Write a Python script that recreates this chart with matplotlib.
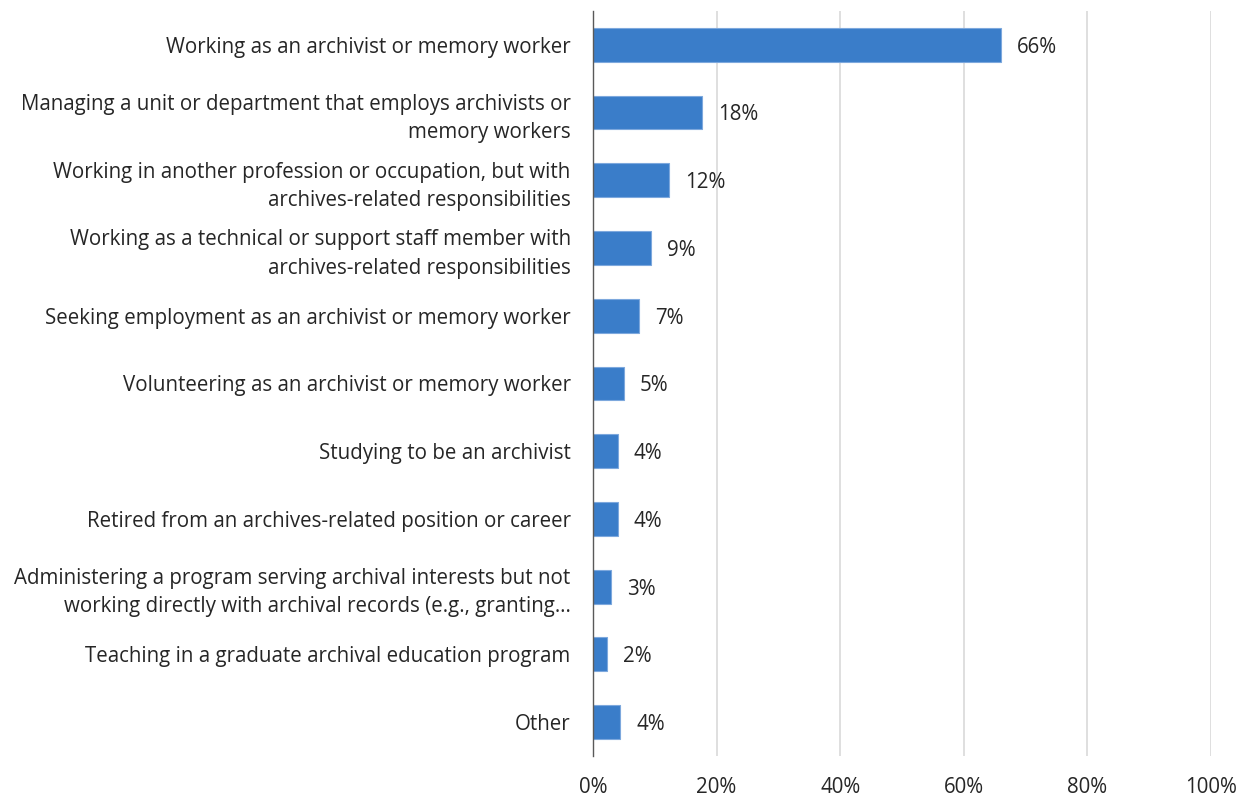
import matplotlib.pyplot as plt
from matplotlib.ticker import PercentFormatter

plt.rcParams['font.family'] = ['Open Sans', 'DejaVu Sans']

categories = [
    "Working as an archivist or memory worker",
    "Managing a unit or department that employs archivists or\nmemory workers",
    "Working in another profession or occupation, but with\narchives-related responsibilities",
    "Working as a technical or support staff member with\narchives-related responsibilities",
    "Seeking employment as an archivist or memory worker",
    "Volunteering as an archivist or memory worker",
    "Studying to be an archivist",
    "Retired from an archives-related position or career",
    "Administering a program serving archival interests but not\nworking directly with archival records (e.g., granting\u2026",
    "Teaching in a graduate archival education program",
    "Other",
]
values = [0.66, 0.176, 0.123, 0.094, 0.074, 0.050, 0.040, 0.040, 0.029, 0.023, 0.044]
value_labels = ["66%", "18%", "12%", "9%", "7%", "5%", "4%", "4%", "3%", "2%", "4%"]

text_color = '#262626'
bar_color = '#3A7DC9'
fs = 14.8

fig = plt.figure(figsize=(12.41, 7.97), dpi=100)
ax = fig.add_axes([0.4778, 0.0514, 0.498, 0.935])

pos = list(range(len(categories)))
bars = ax.barh(pos, values, height=0.5, color=bar_color, edgecolor='#7DA8DD', linewidth=0.8, zorder=3)

for b, lab in zip(bars, value_labels):
    ax.text(b.get_width() + 0.026, b.get_y() + b.get_height() / 2, lab,
            va='center_baseline', ha='left', fontsize=fs, color=text_color)

ax.set_yticks(pos)
ax.set_yticklabels(categories, fontsize=fs, color=text_color, linespacing=1.45)
ax.set_ylim(len(categories) - 0.5, -0.5)
ax.set_xlim(0, 1.0)
ax.set_xticks([0, 0.2, 0.4, 0.6, 0.8, 1.0])
ax.xaxis.set_major_formatter(PercentFormatter(1.0, decimals=0))
ax.tick_params(axis='x', labelsize=fs, colors=text_color, length=0, pad=15)
ax.tick_params(axis='y', length=0, pad=16)

ax.grid(axis='x', color='#D9D9D9', linewidth=1.2, zorder=0)
for s in ['top', 'right', 'bottom']:
    ax.spines[s].set_visible(False)
ax.spines['left'].set_color('#595959')
ax.spines['left'].set_linewidth(1.0)
ax.spines['left'].set_zorder(4)

fig.savefig('out.png', dpi=100)
